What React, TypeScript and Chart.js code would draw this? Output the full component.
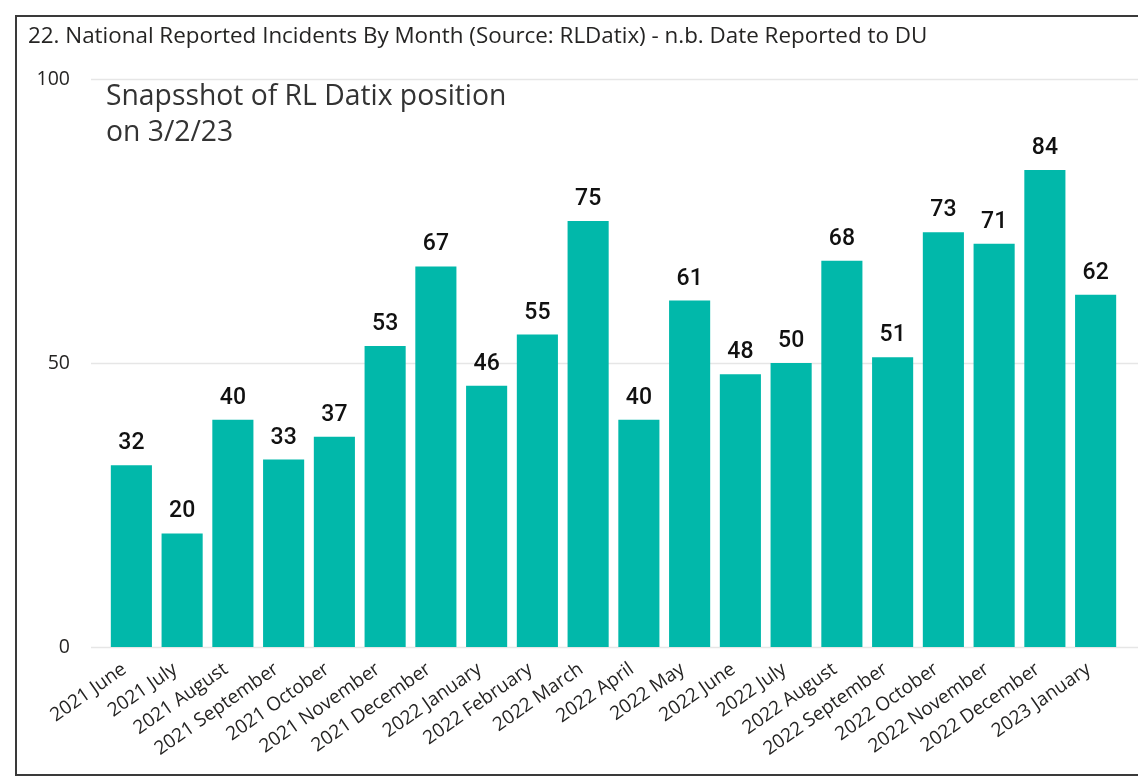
import React, { useEffect, useRef } from "react";
import { Chart, registerables } from "chart.js";

Chart.register(...registerables);

const TITLE = "22. National Reported Incidents By Month (Source: RLDatix) - n.b. Date Reported to DU";
const NOTE_LINES = ["Snapsshot of RL Datix position", "on 3/2/23"];

const categories = [
  "2021 June", "2021 July", "2021 August", "2021 September", "2021 October",
  "2021 November", "2021 December", "2022 January", "2022 February", "2022 March",
  "2022 April", "2022 May", "2022 June", "2022 July", "2022 August",
  "2022 September", "2022 October", "2022 November", "2022 December", "2023 January",
];

const incidents = [32, 20, 40, 33, 37, 53, 67, 46, 55, 75, 40, 61, 48, 50, 68, 51, 73, 71, 84, 62];

const yTicks = [0, 50, 100];

const BAR_COLOR = "#01B8AA";
const TEXT_COLOR = "#252423";
const FONT = "'Open Sans', 'Noto Sans', sans-serif";

const decorPlugin = {
  id: "decor",
  beforeDatasetsDraw(chart: any) {
    const { ctx, scales, chartArea, width } = chart;
    ctx.save();
    ctx.strokeStyle = "#E6E6E6";
    ctx.lineWidth = 1.5;
    yTicks.forEach((v) => {
      const y = Math.round(scales.y.getPixelForValue(v)) + 0.5;
      ctx.beginPath();
      ctx.moveTo(chartArea.left - 15, y);
      ctx.lineTo(width, y);
      ctx.stroke();
    });
    ctx.restore();
  },
  afterDatasetsDraw(chart: any) {
    const { ctx, chartArea } = chart;
    ctx.save();
    // data labels
    ctx.fillStyle = "#111";
    ctx.font = "500 23px Roboto, sans-serif";
    ctx.textAlign = "center";
    ctx.textBaseline = "alphabetic";
    const meta = chart.getDatasetMeta(0);
    meta.data.forEach((bar: any, i: number) => {
      ctx.fillText(String(incidents[i]), bar.x, bar.y - 16);
    });
    // title
    ctx.textAlign = "left";
    ctx.fillStyle = TEXT_COLOR;
    ctx.font = `22.4px ${FONT}`;
    ctx.fillText(TITLE, 28, 43);
    // annotation
    ctx.fillStyle = "#333";
    ctx.font = `28.3px ${FONT}`;
    ctx.fillText(NOTE_LINES[0], chartArea.left, 105);
    ctx.fillText(NOTE_LINES[1], chartArea.left, 141);
    ctx.restore();
  },
};

export default function App() {
  const ref = useRef<HTMLCanvasElement | null>(null);

  useEffect(() => {
    document.documentElement.style.overflow = "hidden";
    document.body.style.overflow = "hidden";
    const canvas = ref.current!;
    const chart = new Chart(canvas, {
      type: "bar",
      data: {
        labels: categories,
        datasets: [
          {
            data: incidents,
            backgroundColor: BAR_COLOR,
            borderWidth: 0,
            barPercentage: 0.81,
            categoryPercentage: 1,
          },
        ],
      },
      options: {
        responsive: false,
        animation: false,
        devicePixelRatio: 1,
        layout: { padding: { top: 79, right: 17, bottom: 0, left: 0 } },
        plugins: {
          legend: { display: false },
          title: { display: false },
          tooltip: { enabled: false },
        },
        scales: {
          x: {
            grid: { display: false },
            border: { display: false },
            ticks: {
              autoSkip: false,
              minRotation: 35,
              maxRotation: 35,
              color: TEXT_COLOR,
              font: { family: FONT, size: 19 },
              padding: 3,
              labelOffset: -7,
            },
            afterFit: (s: any) => {
              s.height = 131;
            },
          },
          y: {
            min: 0,
            max: 100,
            grid: { display: false, drawTicks: false },
            border: { display: false },
            ticks: {
              stepSize: 50,
              color: TEXT_COLOR,
              font: { family: FONT, size: 19.5 },
              padding: 36,
            },
            afterFit: (s: any) => {
              s.width = 106;
            },
          },
        },
      },
      plugins: [decorPlugin],
    });
    return () => chart.destroy();
  }, []);

  return (
    <div style={{ position: "absolute", left: 0, top: 0, width: 1138, height: 778, overflow: "hidden", background: "#fff" }}>
      <div
        style={{
          position: "absolute",
          left: 15,
          top: 15,
          width: 1150,
          height: 761,
          border: "2px solid #3a3a3a",
          boxSizing: "border-box",
        }}
      />
      <canvas ref={ref} width={1138} height={778} style={{ position: "absolute", left: 0, top: 0 }} />
    </div>
  );
}
